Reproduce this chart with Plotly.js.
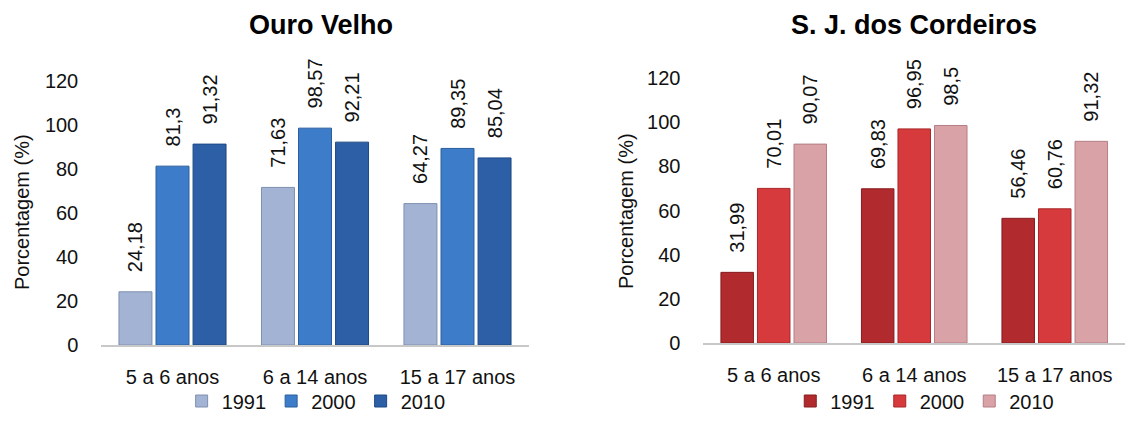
<!DOCTYPE html>
<html>
<head>
<meta charset="utf-8">
<script src="https://cdn.plot.ly/plotly-3.0.1.min.js"></script>
<style>html,body{margin:0;padding:0;background:#fff;}#chart{width:1125px;height:421px;}</style>
</head>
<body>
<div id="chart"></div>
<script>
// ---- data ----
const categories = ['5 a 6 anos', '6 a 14 anos', '15 a 17 anos'];
const years = ['1991', '2000', '2010'];
const ouro1991 = [24.18, 71.63, 64.27];
const ouro2000 = [81.3, 98.57, 89.35];
const ouro2010 = [91.32, 92.21, 85.04];
const sj1991 = [31.99, 69.83, 56.46];
const sj2000 = [70.01, 96.95, 60.76];
const sj2010 = [90.07, 98.5, 91.32];
const yTicks = [0, 20, 40, 60, 80, 100, 120];

// ---- styles ----
const ouroColors = ['#A3B3D3', '#3D7CC9', '#2C5FA5'];
const ouroLines = ['#7E8FB0', '#2B5E9E', '#1F4A85'];
const sjColors = ['#B12A2E', '#D63A3C', '#D9A2A7'];
const sjLines = ['#861C1F', '#A82628', '#B57E84'];
const FONT = 'Liberation Sans, Arial, sans-serif';
const pad = '\u00a0\u00a0\u00a0';

function fmt(v) { return pad + String(v).replace('.', ','); }

function makeBar(vals, name, color, line, xa, ya, legend) {
  return {
    type: 'bar', x: categories, y: vals, name: name,
    xaxis: xa, yaxis: ya, legend: legend,
    marker: {color: color, line: {color: line, width: 1}},
    text: vals.map(fmt), textposition: 'outside', textangle: -90,
    textfont: {family: FONT, size: 20, color: '#111'},
    cliponaxis: false, constraintext: 'none', hoverinfo: 'skip'
  };
}

const ouroSeries = [ouro1991, ouro2000, ouro2010];
const sjSeries = [sj1991, sj2000, sj2010];
const data = [];
ouroSeries.forEach((s, i) => data.push(makeBar(s, years[i], ouroColors[i], ouroLines[i], 'x', 'y', 'legend')));
sjSeries.forEach((s, i) => data.push(makeBar(s, years[i], sjColors[i], sjLines[i], 'x2', 'y2', 'legend2')));

const xCommon = {
  type: 'category', showline: true, linecolor: '#C8C8C8', linewidth: 2,
  showgrid: false, zeroline: false, ticks: '', ticklabelstandoff: 13,
  tickfont: {family: FONT, size: 20, color: '#111'}, fixedrange: true
};
const yCommon = {
  range: [0, 120], tickvals: yTicks, showline: false, showgrid: false,
  zeroline: false, ticks: '', ticklabelstandoff: 22,
  tickfont: {family: FONT, size: 20, color: '#111'}, fixedrange: true
};

const layout = {
  width: 1125, height: 421, autosize: false,
  margin: {l: 0, r: 0, t: 0, b: 0},
  paper_bgcolor: '#fff', plot_bgcolor: 'rgba(0,0,0,0)',
  font: {family: FONT, color: '#111'},
  barmode: 'group', bargap: 0.22, bargroupgap: 0.11,
  showlegend: true,
  xaxis: Object.assign({}, xCommon, {domain: [0.09, 0.47], anchor: 'y'}),
  yaxis: Object.assign({}, yCommon, {domain: [0.1805, 0.8076], anchor: 'x'}),
  xaxis2: Object.assign({}, xCommon, {domain: [0.6253, 1.0], anchor: 'y2'}),
  yaxis2: Object.assign({}, yCommon, {domain: [0.1853, 0.8147], anchor: 'x2'}),
  legend: {orientation: 'h', x: 0.281, xanchor: 'center', y: 0.0475, yanchor: 'middle',
    font: {family: FONT, size: 20, color: '#111'}, traceorder: 'normal', bgcolor: 'rgba(0,0,0,0)'},
  legend2: {orientation: 'h', x: 0.822, xanchor: 'center', y: 0.0475, yanchor: 'middle',
    font: {family: FONT, size: 20, color: '#111'}, traceorder: 'normal', bgcolor: 'rgba(0,0,0,0)'},
  annotations: [
    {text: '<b>Ouro Velho</b>', xref: 'paper', yref: 'paper', x: 321/1125, y: 1 - 25/421,
     xanchor: 'center', yanchor: 'middle', showarrow: false, font: {family: FONT, size: 27, color: '#000'}},
    {text: '<b>S. J. dos Cordeiros</b>', xref: 'paper', yref: 'paper', x: 914/1125, y: 1 - 25/421,
     xanchor: 'center', yanchor: 'middle', showarrow: false, font: {family: FONT, size: 27, color: '#000'}},
    {text: 'Porcentagem (%)', xref: 'paper', yref: 'paper', x: 22/1125, y: 1 - 212/421, textangle: -90,
     xanchor: 'center', yanchor: 'middle', showarrow: false, font: {family: FONT, size: 20, color: '#111'}},
    {text: 'Porcentagem (%)', xref: 'paper', yref: 'paper', x: 626/1125, y: 1 - 211/421, textangle: -90,
     xanchor: 'center', yanchor: 'middle', showarrow: false, font: {family: FONT, size: 20, color: '#111'}}
  ]
};

Plotly.newPlot('chart', data, layout, {displayModeBar: false, staticPlot: true});
</script>
</body>
</html>
